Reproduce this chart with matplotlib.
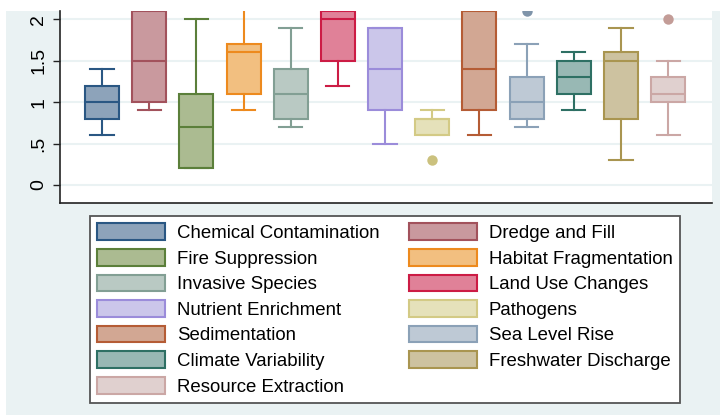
import matplotlib
matplotlib.use("Agg")
import matplotlib.pyplot as plt
from matplotlib.patches import Patch, Rectangle

plt.rcParams["font.family"] = ["Liberation Sans", "DejaVu Sans"]

categories = [
    "Chemical Contamination", "Dredge and Fill", "Fire Suppression",
    "Habitat Fragmentation", "Invasive Species", "Land Use Changes",
    "Nutrient Enrichment", "Pathogens", "Sedimentation", "Sea Level Rise",
    "Climate Variability", "Freshwater Discharge", "Resource Extraction",
]
whis_lo = [0.6, 0.9, 0.2, 0.9, 0.7, 1.2, 0.5, 0.6, 0.6, 0.7, 0.9, 0.3, 0.6]
q1 = [0.8, 1.0, 0.2, 1.1, 0.8, 1.5, 0.9, 0.6, 0.9, 0.8, 1.1, 0.8, 1.0]
median = [1.0, 1.5, 0.7, 1.6, 1.1, 2.0, 1.4, 0.8, 1.4, 1.0, 1.3, 1.5, 1.1]
q3 = [1.2, 2.1, 1.1, 1.7, 1.4, 2.1, 1.9, 0.8, 2.1, 1.3, 1.5, 1.6, 1.3]
whis_hi = [1.4, 2.5, 2.0, 2.3, 1.9, 2.6, 1.9, 0.9, 2.4, 1.7, 1.6, 1.9, 1.5]
outliers = [[], [], [], [], [], [], [], [0.3], [], [2.1], [], [], [2.0]]

fill_colors = [
    "#8da3ba", "#c9999e", "#abbb91", "#f2bf80", "#b9c9c3", "#e08198", "#cbc6ea",
    "#e5e1ba", "#d2a793", "#bec9d5", "#98b8b4", "#cdc2a0", "#e0d0cf",
]
edge_colors = [
    "#2a5783", "#a2525c", "#5b7f3a", "#ed8a1e", "#829f94", "#cc1c45", "#9b8cda",
    "#d3ca85", "#b55c35", "#8ba1b7", "#2e7064", "#a99550", "#cba7a5",
]
flier_colors = [
    "#2a5783", "#a2525c", "#5b7f3a", "#ed8a1e", "#829f94", "#cc1c45", "#9b8cda",
    "#cbc17e", "#b55c35", "#7f94aa", "#2e7064", "#a99550", "#c39c97",
]

W, H = 720, 415
BG = "#eaf2f3"

fig = plt.figure(figsize=(W / 100, H / 100), dpi=100, facecolor="white")
fig.patches.append(Rectangle((6 / W, 0), 1, 1 - 11 / H, transform=fig.transFigure,
                             facecolor=BG, edgecolor="none", zorder=-5))

ax = fig.add_axes([60 / W, 1 - 203 / H, (712 - 60) / W, (203 - 11) / H])
ax.set_facecolor("white")

for i, name in enumerate(categories):
    stats = [{
        "label": name, "whislo": whis_lo[i], "q1": q1[i], "med": median[i],
        "q3": q3[i], "whishi": whis_hi[i], "fliers": outliers[i],
    }]
    lw = 1.5
    ax.bxp(stats, positions=[i], widths=0.72, capwidths=0.49, patch_artist=True,
           boxprops=dict(facecolor=fill_colors[i], edgecolor=edge_colors[i], linewidth=lw),
           medianprops=dict(color=edge_colors[i], linewidth=lw),
           whiskerprops=dict(color=edge_colors[i], linewidth=lw),
           capprops=dict(color=edge_colors[i], linewidth=lw),
           flierprops=dict(marker="o", markersize=7.5, markerfacecolor=flier_colors[i],
                           markeredgecolor="none"),
           zorder=3)

ax.set_xlim(-0.89, 12.93)
ax.set_ylim(-18 / 83, 2.1)
yticks = [0, 0.5, 1, 1.5, 2]
ax.set_yticks(yticks)
ax.set_yticklabels(["0", ".5", "1", "1.5", "2"], rotation=90, va="center", fontsize=14)
ax.set_xticks([])
ax.yaxis.grid(True, color=BG, linewidth=1.5, zorder=0)
ax.set_axisbelow(True)
ax.tick_params(axis="y", length=5, width=1, pad=4, color="#222222")
for side in ["top", "right"]:
    ax.spines[side].set_visible(False)
for side in ["left", "bottom"]:
    ax.spines[side].set_color("#222222")
    ax.spines[side].set_linewidth(1.2)

handles = [Patch(facecolor=f, edgecolor=e, linewidth=1.5)
           for f, e in zip(fill_colors, edge_colors)]
order = list(range(0, 13, 2)) + list(range(1, 13, 2))
leg = fig.legend([handles[k] for k in order], [categories[k] for k in order],
                 ncol=2, loc="center", bbox_to_anchor=(385 / W, 1 - 309.5 / H),
                 fontsize=13.4, handlelength=3.65, handleheight=1.0,
                 handletextpad=0.62, columnspacing=1.6, labelspacing=0.37,
                 borderpad=0.42, borderaxespad=0, fancybox=False, framealpha=1,
                 edgecolor="#555555")
leg.get_frame().set_linewidth(1.3)

fig.savefig("out.png", dpi=100, facecolor=fig.get_facecolor())
